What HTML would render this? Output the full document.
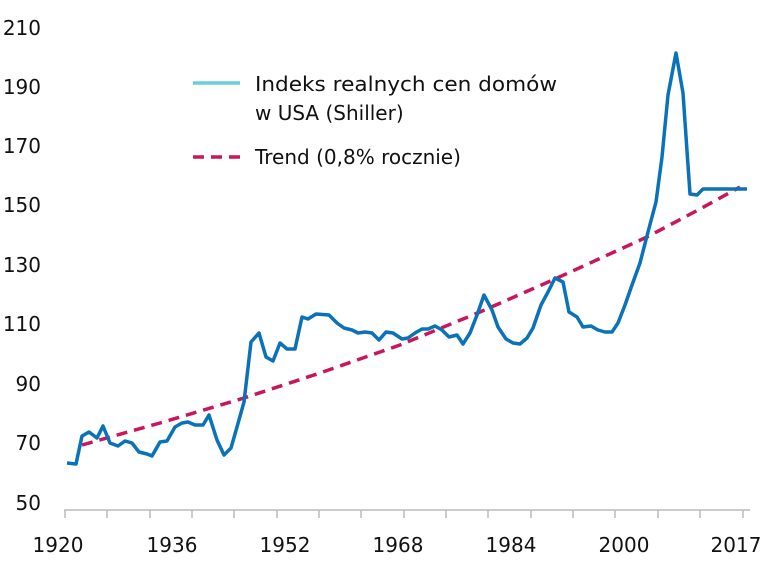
<!DOCTYPE html>
<html><head><meta charset="utf-8"><style>
html,body{margin:0;padding:0;background:#fff;}
svg{display:block;font-family:"DejaVu Sans","Liberation Sans",sans-serif;}
</style></head><body>
<svg width="766" height="566" viewBox="0 0 766 566">
<g font-size="20" fill="#111" text-anchor="end">
<text x="41" y="35">210</text>
<text x="41" y="94">190</text>
<text x="41" y="153">170</text>
<text x="41" y="212">150</text>
<text x="41" y="272">130</text>
<text x="41" y="331">110</text>
<text x="41" y="391">90</text>
<text x="41" y="450">70</text>
<text x="41" y="510">50</text>
</g>
<line x1="64" y1="510" x2="750" y2="510" stroke="#bbb" stroke-width="1.5"/>
<g stroke="#bbb" stroke-width="1.5">
<line x1="65" y1="510" x2="65" y2="518"/><line x1="107" y1="510" x2="107" y2="518"/>
<line x1="150" y1="510" x2="150" y2="518"/><line x1="192" y1="510" x2="192" y2="518"/>
<line x1="234" y1="510" x2="234" y2="518"/><line x1="277" y1="510" x2="277" y2="518"/>
<line x1="319" y1="510" x2="319" y2="518"/><line x1="361" y1="510" x2="361" y2="518"/>
<line x1="404" y1="510" x2="404" y2="518"/><line x1="446" y1="510" x2="446" y2="518"/>
<line x1="488" y1="510" x2="488" y2="518"/><line x1="531" y1="510" x2="531" y2="518"/>
<line x1="573" y1="510" x2="573" y2="518"/><line x1="615" y1="510" x2="615" y2="518"/>
<line x1="658" y1="510" x2="658" y2="518"/><line x1="700" y1="510" x2="700" y2="518"/>
<line x1="743" y1="510" x2="743" y2="518"/>
</g>
<g font-size="20" fill="#111" text-anchor="middle">
<text x="58" y="552">1920</text>
<text x="172" y="552">1936</text>
<text x="285" y="552">1952</text>
<text x="398" y="552">1968</text>
<text x="511" y="552">1984</text>
<text x="624" y="552">2000</text>
<text x="736" y="552">2017</text>
</g>
<polyline fill="none" stroke="#c8175d" stroke-width="3.5" stroke-dasharray="11,7" points="82,445 160,423 244,398 320,373 400,345 480,312 555,279 647,237 700,209 740,187"/>
<polyline fill="none" stroke="#0a72b8" stroke-width="3.5" stroke-linejoin="round" points="67,463 76,464 82,436 89,432 97,438 103,426 110,443 118,446 125,441 132,443 139,452 147,454 152,456 160,442 167,441 175,427 182,423 188,422 195,425 203,425 209,415 217,440 224,455 231,448 237,427 244,402 251,342 259,333 266,357 273,361 280,343 287,349 295,349 302,317 308,319 316,314 329,315 337,323 344,328 352,330 358,333 365,332 372,333 379,340 386,332 393,333 402,339 408,338 415,333 422,329 428,329 435,326 442,330 449,337 457,335 463,344 470,333 477,315 484,295 492,310 498,327 506,339 513,343 520,344 527,338 533,328 541,305 548,292 555,278 563,282 569,312 577,317 583,327 591,326 598,330 605,332 612,332 618,323 625,305 632,285 640,263 648,232 656,202 662,157 668,95 676,53 683,93 690,194 697,195 703,189 747,189"/>
<line x1="193" y1="83" x2="240" y2="83" stroke="#6ccfd6" stroke-width="3.5"/>
<line x1="193" y1="157" x2="240" y2="157" stroke="#c8175d" stroke-width="3.5" stroke-dasharray="11,7"/>
<g font-size="20" fill="#111">
<text x="255" y="91" textLength="302" lengthAdjust="spacingAndGlyphs">Indeks realnych cen domów</text>
<text x="255" y="120">w USA (Shiller)</text>
<text x="255" y="164">Trend (0,8% rocznie)</text>
</g>
</svg>
</body></html>
